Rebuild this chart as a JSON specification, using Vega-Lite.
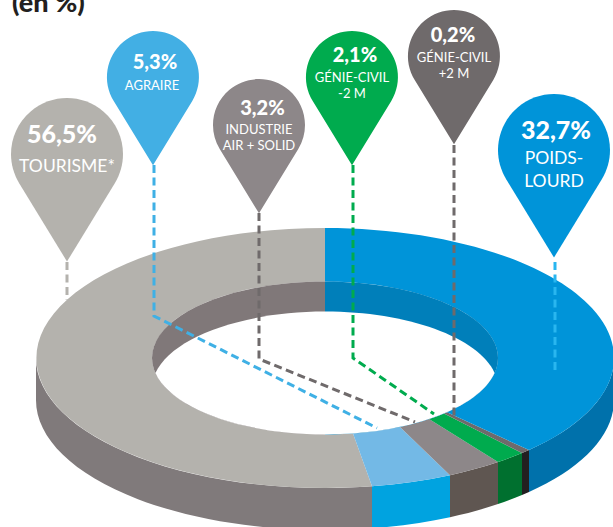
{
  "$schema": "https://vega.github.io/schema/vega-lite/v6.json",
  "width": 613,
  "height": 527,
  "padding": 0,
  "autosize": {"type": "none"},
  "background": "white",
  "config": {"view": {"stroke": null}, "axis": {"disable": true}, "legend": {"disable": true}},
  "datasets": {
    "parts": [
      {"part": "Tourisme", "value": 56.5, "label": "TOURISME*"},
      {"part": "Agraire", "value": 5.3, "label": "AGRAIRE"},
      {"part": "Industrie air + solid", "value": 3.2, "label": "INDUSTRIE\nAIR + SOLID"},
      {"part": "Génie-civil -2 M", "value": 2.1, "label": "GÉNIE-CIVIL\n-2 M"},
      {"part": "Génie-civil +2 M", "value": 0.2, "label": "GÉNIE-CIVIL\n+2 M"},
      {"part": "Poids-lourd", "value": 32.7, "label": "POIDS-\nLOURD"}
    ],
    "inner": [
      {"region": "wall left"},
      {"region": "wall right"},
      {"region": "hole"}
    ],
    "heading": [{"note": "(en %)"}]
  },
  "resolve": {"scale": {"x": "independent", "y": "independent", "color": "independent", "shape": "independent", "size": "independent"}},
  "layer": [
    {
      "data": {"name": "parts"},
      "mark": {"type": "point", "filled": true, "opacity": 1},
      "encoding": {
        "x": {"datum": 325, "type": "quantitative", "scale": {"domain": [0, 613], "range": [0, 613]}},
        "y": {"datum": 358, "type": "quantitative", "scale": {"domain": [0, 527], "range": [0, 527]}},
        "size": {"value": 4},
        "color": {"field": "part", "type": "nominal", "scale": {
          "domain": ["Tourisme", "Agraire", "Industrie air + solid", "Génie-civil -2 M", "Génie-civil +2 M", "Poids-lourd"],
          "range": ["#807a7b", "#00a3e0", "#5f5651", "#00702f", "#231f20", "#0071ab"]}},
        "shape": {"field": "part", "type": "nominal", "scale": {
          "domain": ["Tourisme", "Agraire", "Industrie air + solid", "Génie-civil -2 M", "Génie-civil +2 M", "Poids-lourd"],
          "range": [
            "M47,128.3 A289,130 0 0 1 -289,0 L-289,42 A289,130 0 0 0 47,170.3 Z",
            "M125,117.2 A289,130 0 0 1 47,128.3 L47,170.3 A289,130 0 0 0 125,159.2 Z",
            "M173,104.1 A289,130 0 0 1 125,117.2 L125,159.2 A289,130 0 0 0 173,146.1 Z",
            "M197,95.1 A289,130 0 0 1 173,104.1 L173,146.1 A289,130 0 0 0 197,137.1 Z",
            "M204,92.1 A289,130 0 0 1 197,95.1 L197,137.1 A289,130 0 0 0 204,134.1 Z",
            "M289,0 A289,130 0 0 1 204,92.1 L204,134.1 A289,130 0 0 0 289,42 Z"
          ]}}
      }
    },
    {
      "data": {"name": "parts"},
      "mark": {"type": "point", "filled": true, "opacity": 1},
      "encoding": {
        "x": {"datum": 325, "type": "quantitative", "scale": {"domain": [0, 613], "range": [0, 613]}},
        "y": {"datum": 358, "type": "quantitative", "scale": {"domain": [0, 527], "range": [0, 527]}},
        "size": {"value": 4},
        "color": {"field": "part", "type": "nominal", "scale": {
          "domain": ["Tourisme", "Agraire", "Industrie air + solid", "Génie-civil -2 M", "Génie-civil +2 M", "Poids-lourd"],
          "range": ["#b4b2ad", "#73b9e6", "#8d8789", "#00ab4e", "#6f6a6b", "#0094d9"]}},
        "shape": {"field": "part", "type": "nominal", "scale": {
          "domain": ["Tourisme", "Agraire", "Industrie air + solid", "Génie-civil -2 M", "Génie-civil +2 M", "Poids-lourd"],
          "range": [
            "M47,128.3 A289,130 0 1 1 0,-130 L0,-76.5 A173,76.5 0 1 0 28,75.5 Z",
            "M125,117.2 A289,130 0 0 1 47,128.3 L28,75.5 A173,76.5 0 0 0 75,68.9 Z",
            "M173,104.1 A289,130 0 0 1 125,117.2 L75,68.9 A173,76.5 0 0 0 104,61.1 Z",
            "M197,95.1 A289,130 0 0 1 173,104.1 L104,61.1 A173,76.5 0 0 0 119,55.5 Z",
            "M204,92.1 A289,130 0 0 1 197,95.1 L119,55.5 A173,76.5 0 0 0 122,54.2 Z",
            "M0,-130 A289,130 0 0 1 204,92.1 L122,54.2 A173,76.5 0 0 0 0,-76.5 Z"
          ]}}
      }
    },
    {
      "data": {"name": "inner"},
      "mark": {"type": "point", "filled": true, "opacity": 1},
      "encoding": {
        "x": {"datum": 325, "type": "quantitative", "scale": {"domain": [0, 613], "range": [0, 613]}},
        "y": {"datum": 358, "type": "quantitative", "scale": {"domain": [0, 527], "range": [0, 527]}},
        "size": {"value": 4},
        "color": {"field": "region", "type": "nominal", "scale": {
          "domain": ["wall left", "wall right", "hole"],
          "range": ["#807879", "#007fba", "#ffffff"]}},
        "shape": {"field": "region", "type": "nominal", "scale": {
          "domain": ["wall left", "wall right", "hole"],
          "range": [
            "M0,-76.5 A173,76.5 0 0 0 -173,0 A173,76.5 0 0 0 0,76.5 Z",
            "M0,-76.5 A173,76.5 0 0 1 173,0 A173,76.5 0 0 1 0,76.5 Z",
            "M-169.6,15 A173,76.5 0 0 1 169.6,15 A173,76.5 0 0 1 -169.6,15 Z"
          ]}}
      }
    },
    {
      "data": {"name": "parts"},
      "mark": {"type": "point", "filled": false, "opacity": 1, "strokeWidth": 3, "strokeDash": [8, 4.5]},
      "encoding": {
        "x": {"datum": 325, "type": "quantitative", "scale": {"domain": [0, 613], "range": [0, 613]}},
        "y": {"datum": 358, "type": "quantitative", "scale": {"domain": [0, 527], "range": [0, 527]}},
        "size": {"value": 4},
        "color": {"field": "part", "type": "nominal", "scale": {
          "domain": ["Tourisme", "Agraire", "Industrie air + solid", "Génie-civil -2 M", "Génie-civil +2 M", "Poids-lourd"],
          "range": ["#b4b2ad", "#3fb0e5", "#6f6a6b", "#00ab4e", "#6f6a6b", "#29b6f0"]}},
        "shape": {"field": "part", "type": "nominal", "scale": {
          "domain": ["Tourisme", "Agraire", "Industrie air + solid", "Génie-civil -2 M", "Génie-civil +2 M", "Poids-lourd"],
          "range": [
            "M-258,-96 L-258,-58",
            "M-171,-193 L-171,-42 L52,70",
            "M-66,-145 L-66,1 L90,64",
            "M28,-193 L28,0 L109,56",
            "M129,-213 L129,58",
            "M230,-96 L230,15"
          ]}}
      }
    },
    {
      "data": {"name": "parts"},
      "mark": {"type": "point", "filled": true, "opacity": 1, "shape": "M-85.4,52.1 A100,100 0 1 1 85.4,52.1 L0,192 Z"},
      "encoding": {
        "x": {"field": "value", "type": "quantitative", "scale": {"domain": [0.2, 2.1, 3.2, 5.3, 32.7, 56.5], "range": [454, 352, 259, 153, 554, 67], "zero": false, "nice": false}},
        "y": {"field": "value", "type": "quantitative", "scale": {"domain": [0.2, 2.1, 3.2, 5.3, 32.7, 56.5], "range": [56, 77, 125, 77, 150, 154], "zero": false, "nice": false}},
        "size": {"condition": {"test": "datum.value > 30", "value": 1.2544}, "value": 0.8464},
        "color": {"field": "part", "type": "nominal", "scale": {
          "domain": ["Tourisme", "Agraire", "Industrie air + solid", "Génie-civil -2 M", "Génie-civil +2 M", "Poids-lourd"],
          "range": ["#b4b2ad", "#42afe4", "#8d8789", "#00ab4e", "#6f6a6b", "#0094d9"]}}
      }
    },
    {
      "data": {"name": "parts"},
      "transform": [{"calculate": "replace(format(datum.value, '.1f'), '.', ',') + '%'", "as": "pct"}],
      "mark": {"type": "text", "font": "Lato", "fontWeight": 900, "color": "white", "align": "center", "baseline": "alphabetic"},
      "encoding": {
        "text": {"field": "pct"},
        "x": {"field": "value", "type": "quantitative", "scale": {"domain": [0.2, 2.1, 3.2, 5.3, 32.7, 56.5], "range": [453, 355, 262.5, 155, 556, 62], "zero": false, "nice": false}},
        "y": {"field": "value", "type": "quantitative", "scale": {"domain": [0.2, 2.1, 3.2, 5.3, 32.7, 56.5], "range": [42, 62, 115, 69, 139, 143], "zero": false, "nice": false}},
        "size": {"condition": {"test": "datum.value > 30", "value": 25}, "value": 20}
      }
    },
    {
      "data": {"name": "parts"},
      "mark": {"type": "text", "font": "Lato", "color": "white", "align": "center", "baseline": "alphabetic", "lineBreak": "\n", "lineHeight": {"expr": "datum.value > 30 ? 23 : 16"}},
      "encoding": {
        "text": {"field": "label"},
        "x": {"field": "value", "type": "quantitative", "scale": {"domain": [0.2, 2.1, 3.2, 5.3, 32.7, 56.5], "range": [454, 352, 259, 152, 554, 67], "zero": false, "nice": false}},
        "y": {"field": "value", "type": "quantitative", "scale": {"domain": [0.2, 2.1, 3.2, 5.3, 32.7, 56.5], "range": [62, 82, 134, 90, 164, 172], "zero": false, "nice": false}},
        "size": {"condition": {"test": "datum.value > 30", "value": 17.5}, "value": 13}
      }
    },
    {
      "data": {"name": "heading"},
      "mark": {"type": "text", "font": "Lato", "fontWeight": 900, "fontSize": 27, "color": "#231f20", "align": "left", "baseline": "alphabetic"},
      "encoding": {
        "text": {"field": "note"},
        "x": {"datum": 12, "type": "quantitative", "scale": {"domain": [0, 613], "range": [0, 613]}},
        "y": {"datum": 12, "type": "quantitative", "scale": {"domain": [0, 527], "range": [0, 527]}}
      }
    }
  ]
}
